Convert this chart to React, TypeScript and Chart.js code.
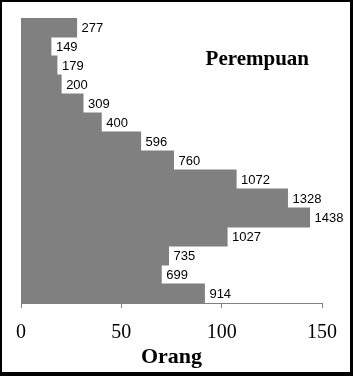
import React, { useEffect, useRef } from "react";
import { Chart, registerables } from "chart.js";

Chart.register(...registerables);

const categories = ["70+", "65-69", "60-64", "55-59", "50-54", "45-49", "40-44", "35-39", "30-34", "25-29", "20-24", "15-19", "10-14", "5-9", "0-4"];
const barValues = [27.7, 14.9, 17.9, 20.0, 30.9, 40.0, 59.6, 76.0, 107.2, 132.8, 143.8, 102.7, 73.5, 69.9, 91.4];
const valueLabels = ["277", "149", "179", "200", "309", "400", "596", "760", "1072", "1328", "1438", "1027", "735", "699", "914"];
const xTickValues = [0, 50, 100, 150];
const axisTitle = "Orang";
const panelTitle = "Perempuan";

const SERIF = '"Liberation Serif", "Times New Roman", serif';
const SANS = '"Liberation Sans", Arial, sans-serif';

export default function App() {
  const canvasRef = useRef<HTMLCanvasElement | null>(null);

  useEffect(() => {
    document.body.style.margin = "0";
    const canvas = canvasRef.current;
    if (!canvas) return;

    const valueLabelPlugin = {
      id: "valueLabels",
      afterDatasetsDraw(chart: any) {
        const ctx = chart.ctx;
        const meta = chart.getDatasetMeta(0);
        ctx.save();
        ctx.font = `13px ${SANS}`;
        ctx.fillStyle = "#000";
        ctx.textAlign = "left";
        ctx.textBaseline = "middle";
        meta.data.forEach((bar: any, i: number) => {
          ctx.fillText(valueLabels[i], bar.x + 5, bar.y + 1);
        });
        ctx.restore();
      },
    };

    const panelTitlePlugin = {
      id: "panelTitle",
      afterDraw(chart: any) {
        const ctx = chart.ctx;
        const area = chart.chartArea;
        ctx.save();
        ctx.font = `bold 21px ${SERIF}`;
        ctx.fillStyle = "#000";
        ctx.textAlign = "right";
        ctx.textBaseline = "alphabetic";
        ctx.fillText(panelTitle, area.right - 13, area.top + 47);
        ctx.restore();
      },
    };

    const chart = new Chart(canvas, {
      type: "bar",
      data: {
        labels: categories,
        datasets: [
          {
            data: barValues,
            backgroundColor: "#808080",
            borderWidth: 0,
            barPercentage: 1,
            categoryPercentage: 1,
            inflateAmount: 0.5,
          },
        ],
      },
      options: {
        indexAxis: "y",
        animation: false,
        responsive: false,
        maintainAspectRatio: false,
        layout: { padding: { left: 19, right: 26, top: 16, bottom: 0 } },
        plugins: {
          legend: { display: false },
          tooltip: { enabled: false },
          title: { display: false },
        },
        scales: {
          y: {
            display: false,
            grid: { display: false },
          },
          x: {
            type: "linear",
            min: 0,
            max: 150,
            afterBuildTicks(scale: any) {
              scale.ticks = xTickValues.map((v) => ({ value: v }));
            },
            afterFit(scale: any) {
              scale.height = 69;
            },
            ticks: {
              color: "#000",
              font: { family: SERIF, size: 20 },
              padding: 13,
              maxRotation: 0,
            },
            grid: {
              display: true,
              drawOnChartArea: false,
              drawTicks: true,
              tickLength: 5,
              color: "#808080",
            },
            border: { display: true, color: "#808080", width: 1 },
            title: {
              display: true,
              text: axisTitle,
              color: "#000",
              font: { family: SERIF, size: 22, weight: "bold" },
              padding: { top: 0, bottom: 1 },
            },
          },
        },
      },
      plugins: [valueLabelPlugin, panelTitlePlugin],
    } as any);

    return () => chart.destroy();
  }, []);

  return (
    <div
      style={{
        width: 353,
        height: 376,
        boxSizing: "border-box",
        borderStyle: "solid",
        borderColor: "#000",
        borderWidth: "2px 3px 4px 2px",
        background: "#fff",
      }}
    >
      <canvas ref={canvasRef} width={348} height={370} style={{ width: 348, height: 370, display: "block" }} />
    </div>
  );
}
